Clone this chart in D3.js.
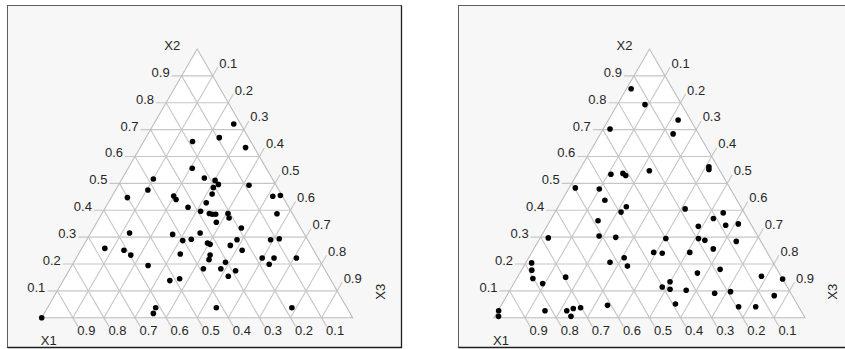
<!DOCTYPE html>
<html>
<head>
<meta charset="utf-8">
<script src="https://cdn.jsdelivr.net/npm/d3@7"></script>
<style>
  html, body { margin: 0; padding: 0; background: #ffffff; }
  svg { display: block; font-family: "Liberation Sans", Arial, sans-serif; }
</style>
</head>
<body>
<svg id="chart" width="845" height="349"></svg>
<script>
// Mixture design points, two ternary panels. Each point is (X1, X2, X3).
const tickValues = [0.1, 0.2, 0.3, 0.4, 0.5, 0.6, 0.7, 0.8, 0.9];
const tickLabels = ["0.1", "0.2", "0.3", "0.4", "0.5", "0.6", "0.7", "0.8", "0.9"];
const axisNames = ["X1", "X2", "X3"];

const leftX1 = [1.000,0.022,0.187,0.094,0.028,0.238,0.217,0.187,0.184,0.206,0.087,0.383,0.421,0.501,0.349,0.348,
  0.222,0.324,0.257,0.291,0.267,0.259,0.248,0.207,0.212,0.261,0.031,0.005,0.050,0.191,0.560,0.424,
  0.333,0.403,0.373,0.328,0.322,0.227,0.259,0.119,0.089,0.230,0.668,0.610,0.597,0.436,0.342,0.354,
  0.561,0.389,0.333,0.306,0.289,0.323,0.180,0.169,0.142,0.070,0.519,0.484,0.615,0.633,0.420,0.177];
const leftX2 = [0.000,0.721,0.656,0.670,0.633,0.556,0.520,0.511,0.496,0.484,0.493,0.516,0.475,0.447,0.453,0.440,
  0.460,0.411,0.428,0.396,0.388,0.385,0.385,0.388,0.371,0.355,0.452,0.455,0.387,0.334,0.315,0.310,
  0.315,0.287,0.292,0.278,0.273,0.290,0.269,0.290,0.294,0.251,0.258,0.251,0.233,0.237,0.233,0.216,
  0.194,0.182,0.182,0.206,0.175,0.154,0.222,0.199,0.222,0.222,0.138,0.145,0.037,0.016,0.037,0.037];
const leftX3 = [0.000,0.257,0.157,0.236,0.339,0.206,0.263,0.302,0.320,0.310,0.420,0.101,0.104,0.052,0.198,0.212,
  0.318,0.265,0.315,0.313,0.345,0.356,0.367,0.405,0.417,0.384,0.517,0.540,0.563,0.475,0.125,0.266,
  0.352,0.310,0.335,0.394,0.405,0.483,0.472,0.591,0.617,0.519,0.074,0.139,0.170,0.327,0.425,0.430,
  0.245,0.429,0.485,0.488,0.536,0.523,0.598,0.632,0.636,0.708,0.343,0.371,0.348,0.351,0.543,0.786];

const rightX1 = [0.133,0.118,0.040,0.082,0.276,0.028,0.033,0.357,0.317,0.312,0.227,0.497,0.422,0.425,0.368,0.395,
  0.183,0.485,0.068,0.110,0.083,0.040,0.173,0.677,0.510,0.459,0.300,0.195,0.178,0.079,0.167,0.365,
  0.339,0.249,0.470,0.524,0.475,0.183,0.263,0.063,0.000,0.777,0.790,0.802,0.780,0.694,0.367,0.402,
  0.381,0.331,0.245,0.191,0.058,0.391,0.193,0.138,0.612,0.703,0.728,0.753,0.750,0.823,0.972,0.983];
const rightX2 = [0.852,0.793,0.736,0.684,0.702,0.562,0.552,0.534,0.537,0.529,0.547,0.483,0.479,0.437,0.413,0.393,
  0.405,0.361,0.390,0.369,0.344,0.349,0.340,0.297,0.304,0.299,0.295,0.295,0.288,0.284,0.256,0.243,
  0.240,0.243,0.223,0.206,0.192,0.180,0.166,0.154,0.144,0.204,0.177,0.146,0.127,0.151,0.134,0.114,
  0.106,0.102,0.091,0.097,0.082,0.051,0.041,0.041,0.046,0.037,0.034,0.026,0.005,0.026,0.026,0.005];
const rightX3 = [0.015,0.089,0.224,0.234,0.022,0.410,0.415,0.109,0.146,0.159,0.226,0.020,0.099,0.138,0.219,0.212,
  0.412,0.154,0.542,0.521,0.573,0.611,0.487,0.026,0.186,0.242,0.405,0.510,0.534,0.637,0.577,0.392,
  0.421,0.508,0.307,0.270,0.333,0.637,0.571,0.783,0.856,0.019,0.033,0.052,0.093,0.155,0.499,0.484,
  0.513,0.567,0.664,0.712,0.860,0.558,0.766,0.821,0.342,0.260,0.238,0.221,0.245,0.151,0.002,0.012];

const panels = [
  { box: [7.5, 5.5, 394, 342], vx: 41.7, x1: leftX1, x2: leftX2, x3: leftX3 },
  { box: [458.5, 5.5, 394, 342], vx: 494.0, x1: rightX1, x2: rightX2, x3: rightX3 }
];

const side = 311, baseY = 317.7, triH = 268.7, tickLen = 10;
const textColor = "#262626", gridColor = "#c6c6c6";
const svg = d3.select("#chart");

panels.forEach(p => {
  const g = svg.append("g");
  const [bx, by, bw, bh] = p.box;

  // panel frame
  g.append("rect").attr("x", bx).attr("y", by).attr("width", bw).attr("height", bh)
    .attr("fill", "#f7f7f7").attr("stroke", "#5e5e5e").attr("stroke-width", 1);
  g.append("path").attr("d", `M${bx + bw},${by} V${by + bh} H${bx}`)
    .attr("fill", "none").attr("stroke", "#1e1e1e").attr("stroke-width", 1.3);

  // ternary -> screen: horizontal position from (X3 + X2/2), vertical from X2
  const sx = d3.scaleLinear().domain([0, 1]).range([p.vx, p.vx + side]);
  const sy = d3.scaleLinear().domain([0, 1]).range([baseY, baseY - triH]);
  const pt = (a, b, c) => [sx(c + b / 2), sy(b)];

  const A = pt(1, 0, 0), B = pt(0, 1, 0), C = pt(0, 0, 1);
  g.append("path").attr("d", `M${A}L${B}L${C}Z`).attr("fill", "#ffffff");

  const line = d3.line();
  const grid = g.append("g").attr("fill", "none").attr("stroke", gridColor).attr("stroke-width", 1.1);

  tickValues.forEach((t, i) => {
    // X2 = t : horizontal, tick out to the left
    const l2 = pt(1 - t, t, 0), r2 = pt(0, t, 1 - t);
    grid.append("path").attr("d", line([[l2[0] - tickLen, l2[1]], r2]));
    g.append("text").attr("x", l2[0] - tickLen - 2).attr("y", l2[1] + 1)
      .attr("text-anchor", "end").text(tickLabels[i]);

    // X3 = t : from base up to right edge, tick continues up-right
    const b3 = pt(1 - t, 0, t), r3 = pt(0, 1 - t, t);
    const e3 = [r3[0] + tickLen * 0.5, r3[1] - tickLen * Math.sqrt(3) / 2];
    grid.append("path").attr("d", line([b3, e3]));
    g.append("text").attr("x", e3[0] + 1.5).attr("y", e3[1] + 0.5)
      .attr("text-anchor", "start").text(tickLabels[i]);

    // X1 = t : from left edge down to base, tick continues down-right
    const l1 = pt(t, 1 - t, 0), b1 = pt(t, 0, 1 - t);
    const e1 = [b1[0] + tickLen * 0.5, b1[1] + tickLen * Math.sqrt(3) / 2];
    grid.append("path").attr("d", line([l1, e1]));
    g.append("text").attr("x", e1[0] - 0.5).attr("y", e1[1] + 9)
      .attr("text-anchor", "start").text(tickLabels[i]);
  });

  // triangle outline
  g.append("path").attr("d", `M${A}L${B}L${C}Z`)
    .attr("fill", "none").attr("stroke", "#bcbcbc").attr("stroke-width", 1.1);

  g.selectAll("text").attr("font-size", 13).attr("fill", textColor);

  // axis names
  const titles = g.append("g").attr("font-size", 13).attr("fill", textColor);
  titles.append("text").attr("x", B[0] - 25).attr("y", B[1] + 0.5)
    .attr("text-anchor", "middle").text(axisNames[1]);
  titles.append("text").attr("x", A[0] + 7).attr("y", A[1] + 27)
    .attr("text-anchor", "middle").text(axisNames[0]);
  titles.append("text").attr("transform", `translate(${C[0] + 32},${C[1] - 26}) rotate(-90)`)
    .attr("text-anchor", "middle").text(axisNames[2]);

  // design points
  const data = p.x1.map((a, i) => ({ a, b: p.x2[i], c: p.x3[i] }));
  g.append("g").selectAll("circle").data(data).join("circle")
    .attr("cx", d => pt(d.a, d.b, d.c)[0])
    .attr("cy", d => pt(d.a, d.b, d.c)[1])
    .attr("r", 2.8)
    .attr("fill", "#000");
});
</script>
</body>
</html>
